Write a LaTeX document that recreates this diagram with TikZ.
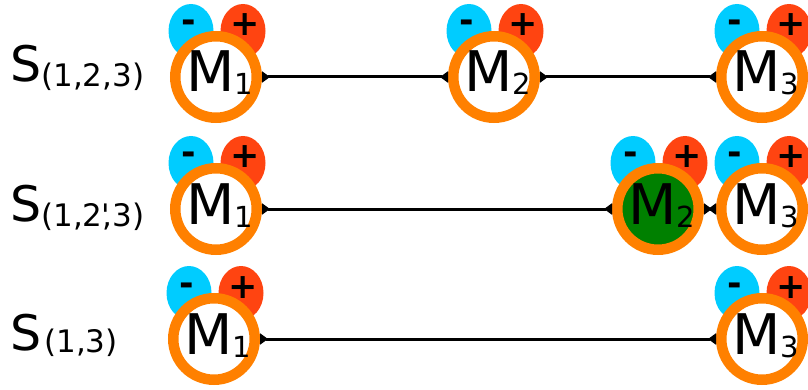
\documentclass[tikz,border=0pt]{standalone}
\usepackage{fontspec}
\newfontfamily\dvs{DejaVu Sans}
\usetikzlibrary{arrows.meta}
\definecolor{ringor}{RGB}{255,128,0}
\definecolor{negblue}{RGB}{0,204,255}
\definecolor{posred}{RGB}{255,68,17}
\definecolor{molgreen}{RGB}{0,128,0}
\tikzset{
  ring/.style={circle, draw=ringor, line width=10.5pt, minimum size=81.5pt, inner sep=0pt},
  sign/.style={font=\dvs\bfseries\fontsize{35}{35}\selectfont, inner sep=0pt, anchor=base},
  mtext/.style={font=\dvs\fontsize{56}{56}\selectfont, inner sep=0pt, anchor=base},
  stext/.style={font=\dvs\fontsize{49}{49}\selectfont, inner sep=0pt, anchor=base west},
  link/.style={line width=3pt, {Triangle[reversed,length=8pt,width=11pt]}-{Triangle[reversed,length=8pt,width=11pt]}},
}
\newcommand\molec[5]{%
  \fill[negblue] (#2-25,#3-46) ellipse [x radius=22.5pt, y radius=27pt];
  \fill[posred] (#2+27,#3-46) ellipse [x radius=22.5pt, y radius=27pt];
  \node[sign] at (#2-27,#3-44) {-};
  \node[sign] at (#2+29,#3-41) {+};
  \node[ring, fill=#5] (#1) at (#2,#3) {};
  \node[mtext] at (#2+4,#3+15) {M\raisebox{-3pt}{\fontsize{29}{29}\selectfont #4}};
}
\begin{document}
\begin{tikzpicture}[x=1pt,y=-1pt]
\useasboundingbox (0,0) rectangle (808,390);
% row 1
\molec{r1m1}{216}{77}{1}{white}
\molec{r1m2}{494}{77}{2}{white}
\molec{r1m3}{762}{77}{3}{white}
% row 2
\molec{r2m1}{216}{209}{1}{white}
\molec{r2m2}{658}{209}{2}{molgreen}
\molec{r2m3}{762}{209}{3}{white}
% row 3
\molec{r3m1}{214}{339}{1}{white}
\molec{r3m3}{762}{339}{3}{white}
% labels
\node[stext] (s1) at (10,82) {S\raisebox{-5pt}{\fontsize{31}{31}\selectfont (1,2,3)}};
\node[stext] (s2) at (10,222) {S\raisebox{-5pt}{\fontsize{31}{31}\selectfont (1,2\rlap{\kern-1.5pt'},3)}};
\node[stext] (s3) at (10,350) {S\hspace{3pt}\raisebox{-2pt}{\fontsize{31}{31}\selectfont (1,3)}};
% links
\draw[link] (r1m1) -- (r1m2);
\draw[link] (r1m2) -- (r1m3);
\draw[link] (r2m1) -- (r2m2);
\draw[link] (r2m2) -- (r2m3);
\draw[link] (r3m1) -- (r3m3);
\end{tikzpicture}
\end{document}
